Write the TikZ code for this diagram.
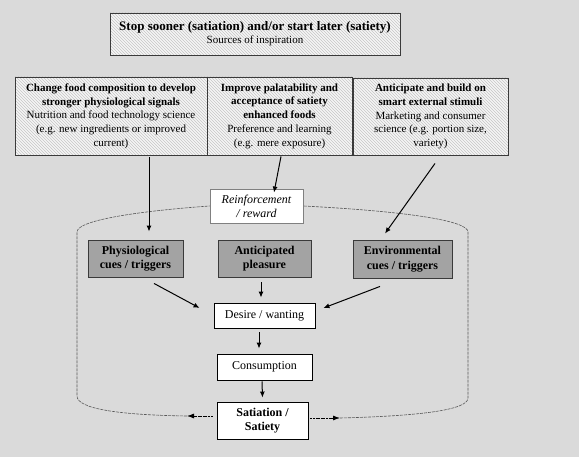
\documentclass[tikz,border=0pt]{standalone}
\usepackage{fontspec}
\setmainfont{Liberation Serif}
\usetikzlibrary{arrows.meta,patterns}
\definecolor{bg}{HTML}{DADADA}
\definecolor{dk}{HTML}{A3A3A3}
\definecolor{edge}{HTML}{3A3A3A}
\tikzset{
  hatchbox/.style={draw=edge, line width=0.9pt, preaction={fill=white!96!black}, pattern=north west lines, pattern color=gray!45, inner sep=0pt, align=center, font=\fontsize{11}{13.7}\selectfont},
  darkbox/.style={draw=edge, line width=0.9pt, fill=dk, inner sep=0pt, align=center, font=\fontsize{12}{14.5}\selectfont\bfseries},
  whitebox/.style={draw=black, line width=0.9pt, fill=white, inner sep=0pt, align=center, font=\fontsize{12}{14}\selectfont},
  arr/.style={-{Latex[length=6pt,width=5pt]}, line width=1pt, black},
  loop/.style={draw=gray!70!black, line width=0.6pt, dash pattern=on 3pt off 1pt},
  looptip/.style={-{Latex[length=7pt,width=5pt]}, draw=black, line width=0.8pt, dash pattern=on 2pt off 0.6pt}
}
\begin{document}
\begin{tikzpicture}[x=1pt,y=-1pt]
\fill[bg] (0,0) rectangle (579,457);
\useasboundingbox (0,0) rectangle (579,457);

\node[hatchbox, minimum width=290pt, minimum height=42pt] (top) at (255,34)
  {{\fontsize{13}{15}\selectfont\bfseries Stop sooner (satiation) and/or start later (satiety)}\\[-1pt]Sources of inspiration};

\node[hatchbox, minimum width=192pt, minimum height=78pt] (left) at (111,116)
  {\textbf{Change food composition to develop}\\\textbf{stronger physiological signals}\\Nutrition and food technology science\\(e.g. new ingredients or improved\\current)};
\node[hatchbox, minimum width=145pt, minimum height=78pt] (mid) at (279.5,116)
  {\textbf{Improve palatability and}\\\textbf{acceptance of satiety}\\\textbf{enhanced foods}\\Preference and learning\\(e.g. mere exposure)};
\node[hatchbox, minimum width=155pt, minimum height=77pt] (right) at (430.5,116.5)
  {\textbf{Anticipate and build on}\\\textbf{smart external stimuli}\\Marketing and consumer\\science (e.g. portion size,\\variety)};

\node[whitebox, draw=gray, minimum width=93pt, minimum height=34pt, font=\fontsize{12}{14}\selectfont\itshape] (rein) at (256.5,206) {Reinforcement\\/ reward};

\node[darkbox, minimum width=95pt, minimum height=37pt] (phys) at (135.5,258.5) {Physiological\\cues / triggers};
\node[darkbox, minimum width=93pt, minimum height=37pt] (ant) at (264.5,258.5) {Anticipated\\pleasure};
\node[darkbox, minimum width=99pt, minimum height=38pt] (env) at (402.5,259) {Environmental\\cues / triggers};

\node[whitebox, minimum width=101pt, minimum height=25pt] (des) at (264.5,315.5) {Desire / wanting};
\node[whitebox, minimum width=95pt, minimum height=26pt] (con) at (264.5,367) {Consumption};
\node[whitebox, minimum width=91pt, minimum height=37pt, font=\fontsize{12}{14}\selectfont\bfseries] (sat) at (262.5,420.5) {Satiation /\\Satiety};

% dashed feedback loop
\coordinate (lt) at (187,416);
\coordinate (rt) at (340,418);
\draw[looptip] ([xshift=-4pt,yshift=4.5pt]sat.west) -- (lt);
\draw[looptip] ([xshift=2pt,yshift=2.5pt]sat.east) -- (rt);
\draw[loop] (lt) .. controls (120,415) and (77,409) .. (77,396) -- (77,232)
   .. controls (77,220) and (140,211) .. (rein.west);
\draw[loop] (rt) .. controls (420,416) and (468,410) .. (468,398) -- (468,232)
   .. controls (468,220) and (400,211) .. (rein.east);

% arrows
\draw[arr] ([xshift=38pt,yshift=-2pt]left.south) -- ([xshift=13.5pt,yshift=8pt]phys.north);
\draw[arr] ([xshift=1.5pt,yshift=-1pt]mid.south) -- ([xshift=17.5pt,yshift=-4pt]rein.north);
\draw[arr] ([xshift=4.5pt,yshift=-8pt]right.south) -- ([xshift=-17.5pt,yshift=6pt]env.north);
\draw[arr] ([xshift=18.5pt,yshift=-6pt]phys.south) -- ([xshift=-14pt,yshift=7.5pt]des.west);
\draw[arr] ([xshift=-3.5pt,yshift=-5pt]ant.south) -- ([xshift=-3.5pt,yshift=5pt]des.north);
\draw[arr] ([xshift=-22.5pt,yshift=-8pt]env.south) -- ([xshift=8pt,yshift=7.5pt]des.east);
\draw[arr] ([xshift=-5.5pt,yshift=-4pt]des.south) -- ([xshift=-5.5pt,yshift=5pt]con.north);
\draw[arr] ([xshift=-2.5pt,yshift=-1pt]con.south) -- ([yshift=4pt]sat.north);
\end{tikzpicture}
\end{document}
